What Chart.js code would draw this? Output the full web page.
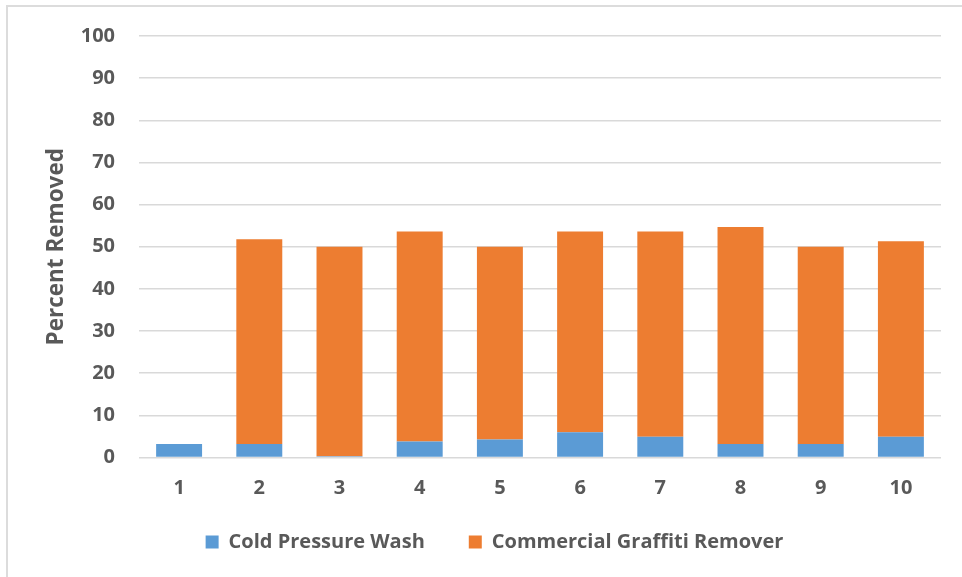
<!DOCTYPE html>
<html>
<head>
<meta charset="utf-8">
<script src="https://cdn.jsdelivr.net/npm/chart.js@4.4.1/dist/chart.umd.min.js"></script>
<style>
    html, body { margin: 0; padding: 0; background: #fff; overflow: hidden; }
    #wrap { position: relative; width: 962px; height: 577px; }
    #frame {
        position: absolute; left: 6px; top: 5px; width: 980px; height: 600px;
        border-left: 2px solid #dcdcdc; border-top: 2px solid #dcdcdc;
    }
    #chart { position: absolute; left: 0; top: 0; }
</style>
</head>
<body>
<div id="wrap">
    <div id="frame"></div>
    <canvas id="chart" width="962" height="577"></canvas>
</div>
<script>
// ============================================
// 1. データ
// ============================================

const categories = ['1', '2', '3', '4', '5', '6', '7', '8', '9', '10'];
const coldPressureWash = [3.2, 3.2, 0.3, 3.8, 4.3, 6.0, 4.9, 3.2, 3.2, 4.9];
const graffitiRemover = [0, 48.6, 49.7, 49.8, 45.7, 47.6, 48.7, 51.5, 46.8, 46.4];
const seriesNames = ['Cold Pressure Wash', 'Commercial Graffiti Remover'];
const yTicks = [0, 10, 20, 30, 40, 50, 60, 70, 80, 90, 100];

// ============================================
// 2. レイアウト微調整（凡例の位置・X軸ラベルのクリップ）
// ============================================

const layoutTweak = {
    id: 'layoutTweak',
    afterLayout(chart) {
        // 凡例を少し右へ
        chart.legend.left += 24;
        chart.legend.right += 24;
        // X軸ラベルが凡例の余白で切れないように
        chart.scales.x.bottom = chart.legend.top + 40;
    }
};

// ============================================
// 3. チャート
// ============================================

const textColor = '#595959';
const fontFamily = '"Open Sans", "Liberation Sans", sans-serif';

const ctx = document.getElementById('chart').getContext('2d');
new Chart(ctx, {
    type: 'bar',
    data: {
        labels: categories,
        datasets: [
            {
                label: seriesNames[0],
                data: coldPressureWash,
                backgroundColor: '#5B9BD5'
            },
            {
                label: seriesNames[1],
                data: graffitiRemover,
                backgroundColor: '#ED7D31'
            }
        ]
    },
    plugins: [layoutTweak],
    options: {
        responsive: false,
        animation: false,
        layout: {
            padding: { top: 35, right: 21, bottom: 15, left: 0 }
        },
        categoryPercentage: 1,
        barPercentage: 0.573,
        plugins: {
            tooltip: { enabled: false },
            legend: {
                position: 'bottom',
                labels: {
                    color: textColor,
                    font: { family: fontFamily, size: 20, weight: 'bold' },
                    boxWidth: 13,
                    boxHeight: 13,
                    padding: 44
                }
            }
        },
        scales: {
            x: {
                stacked: true,
                grid: { display: false, drawTicks: false },
                border: { display: false },
                ticks: {
                    color: textColor,
                    font: { family: fontFamily, size: 20, weight: 'bold' },
                    padding: 19
                },
                afterFit: function(scale) { scale.height = 30.5; }
            },
            y: {
                stacked: true,
                min: 0,
                max: 100,
                afterBuildTicks: function(scale) {
                    scale.ticks = yTicks.map(v => ({ value: v }));
                },
                grid: { color: '#d9d9d9', lineWidth: 1.5, drawTicks: false },
                border: { display: false },
                ticks: {
                    color: textColor,
                    font: { family: fontFamily, size: 20, weight: 'bold' },
                    padding: 24
                },
                title: {
                    display: true,
                    text: 'Percent Removed',
                    color: textColor,
                    font: { family: fontFamily, size: 22.5, weight: 'bold' },
                    padding: { top: 43.5 }
                },
                afterFit: function(scale) { scale.width = 139; }
            }
        }
    }
});
</script>
</body>
</html>
